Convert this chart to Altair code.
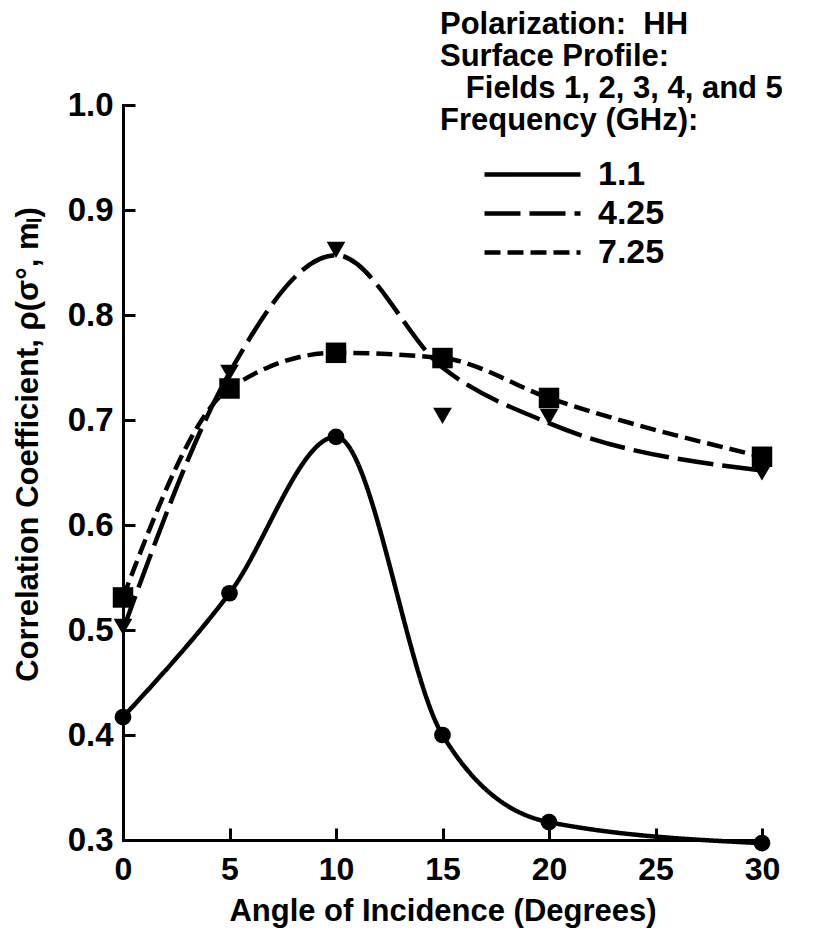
import altair as alt
import pandas as pd

# ---- data ----
angles = [0, 5, 10, 15, 20, 30]
freq_labels = ["1.1", "4.25", "7.25"]
marker_shapes = ["circle", "triangle-down", "square"]
marker_sizes = [280, 420, 280]

# measured points
pts_11 = [0.417, 0.535, 0.684, 0.400, 0.317, 0.297]
pts_425 = [0.503, 0.745, 0.862, 0.704, 0.703, 0.650]
pts_725 = [0.531, 0.730, 0.764, 0.759, 0.721, 0.665]

# fitted curves as drawn (4.25 curve does not pass through its 15-degree point)
curve_11 = [0.417, 0.535, 0.684, 0.400, 0.317, 0.297]
curve_425 = [0.500, 0.745, 0.857, 0.750, 0.697, 0.652]
curve_725 = [0.531, 0.730, 0.764, 0.759, 0.721, 0.665]

x_ticks = [0, 5, 10, 15, 20, 25, 30]
y_ticks = [0.3, 0.4, 0.5, 0.6, 0.7, 0.8, 0.9, 1.0]
x_inner_ticks = [5, 10, 15, 20, 25, 30]
y_inner_ticks = [0.4, 0.5, 0.6, 0.7, 0.8, 0.9, 1.0]

legend_title = [
    "Polarization:\u00a0 HH",
    "Surface Profile:",
    "\u200b\u00a0\u00a0\u00a0Fields 1, 2, 3, 4, and 5",
    "Frequency (GHz):",
]

# ---- tables ----
line_df = pd.DataFrame({
    "angle": angles * 3,
    "rho": curve_11 + curve_425 + curve_725,
    "freq": [f for f in freq_labels for _ in angles],
})
pt_df = pd.DataFrame({
    "angle": angles * 3,
    "rho": pts_11 + pts_425 + pts_725,
    "freq": [f for f in freq_labels for _ in angles],
})

FONT = "Liberation Sans, Arial, sans-serif"

W, H = 639, 735
xscale = alt.Scale(domain=[0, 30], nice=False, zero=False)
yscale = alt.Scale(domain=[0.3, 1.0], nice=False, zero=False)

lines = alt.Chart(line_df).mark_line(
    interpolate="monotone", color="black", strokeWidth=4.5
).encode(
    x=alt.X("angle:Q", scale=xscale, axis=alt.Axis(
        orient="bottom", values=x_ticks, format="d", ticks=False, tickSize=0,
        grid=False, domainColor="black", domainWidth=3, domainCap="square",
        labelFont=FONT, labelFontSize=32, labelFontWeight="bold",
        labelColor="black", labelPadding=14, labelFlush=False,
        title="Angle of Incidence (Degrees)", titleFont=FONT, titleFontSize=31,
        titleFontWeight="bold", titleColor="black", titleY=80,
        titleBaseline="alphabetic")),
    y=alt.Y("rho:Q", scale=yscale, axis=alt.Axis(
        orient="left", values=y_ticks, format=".1f", ticks=False, tickSize=0,
        grid=False, domainColor="black", domainWidth=3, domainCap="square",
        labelFont=FONT, labelFontSize=33, labelFontWeight="bold",
        labelColor="black", labelPadding=10, labelFlush=False,
        title="Correlation Coefficient, \u03c1(\u03c3\u00b0, m\u2097)",
        titleFont=FONT, titleFontSize=31, titleFontWeight="bold",
        titleColor="black", titleX=-95, titleY=339, titleBaseline="middle",
        titleAngle=270)),
    strokeDash=alt.StrokeDash("freq:N", scale=alt.Scale(
        domain=freq_labels, range=[[1, 0], [36, 9], [16, 7]]),
        legend=alt.Legend(
            orient="none", legendX=317, legendY=-95, title=legend_title,
            titleFont=FONT, titleFontSize=31, titleFontWeight="bold",
            titleColor="black", titleLineHeight=32, titlePadding=18,
            titleLimit=1000, titleAnchor="start",
            labelFont=FONT, labelFontSize=34, labelFontWeight="bold",
            labelColor="black", labelOffset=15,
            symbolType="M-1,0H1", symbolSize=9216, symbolStrokeWidth=4.5,
            symbolStrokeColor="black", symbolFillColor="transparent",
            symbolOffset=42, clipHeight=39, rowPadding=0, padding=0)),
)

points = alt.Chart(pt_df).mark_point(
    filled=True, color="black", opacity=1
).encode(
    x=alt.X("angle:Q", scale=xscale, axis=alt.Axis(
        orient="top", offset=-H, values=x_inner_ticks, labels=False,
        domain=False, grid=False, ticks=True, tickSize=12, tickWidth=3,
        tickColor="black", title=None)),
    y=alt.Y("rho:Q", scale=yscale, axis=alt.Axis(
        orient="right", offset=-W, values=y_inner_ticks, labels=False,
        domain=False, grid=False, ticks=True, tickSize=12, tickWidth=3,
        tickColor="black", title=None)),
    shape=alt.Shape("freq:N", scale=alt.Scale(
        domain=freq_labels, range=marker_shapes), legend=None),
    size=alt.Size("freq:N", scale=alt.Scale(
        domain=freq_labels, range=marker_sizes), legend=None),
)

chart = alt.layer(lines, points).resolve_axis(
    x="independent", y="independent"
).resolve_legend(size="independent", shape="independent").properties(
    width=W, height=H,
    autosize=alt.AutoSizeParams(type="none"),
    padding={"left": 123, "top": 105, "right": 828 - 123 - W, "bottom": 936 - 105 - H},
    background="white",
).configure_view(stroke=None)

chart.save("out.html", embed_options={"renderer": "svg", "actions": False})
